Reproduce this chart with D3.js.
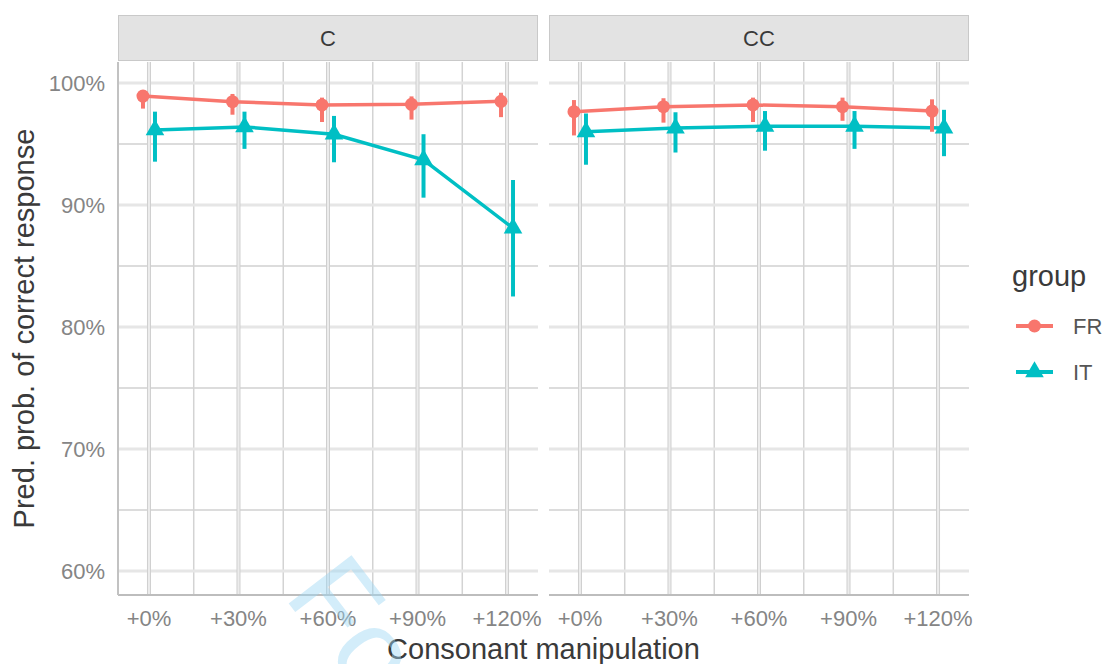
<!DOCTYPE html>
<html>
<head>
<meta charset="utf-8">
<script src="https://cdn.jsdelivr.net/npm/d3@7"></script>
<style>
  body { margin: 0; background: #fff; }
  svg { display: block; font-family: "Liberation Sans", Arial, sans-serif; }
</style>
</head>
<body>
<div id="chart"><svg></svg></div>
<script>
// Data (predicted probabilities, %)
const manipulations = ["+0%", "+30%", "+60%", "+90%", "+120%"];
const panels = ["C", "CC"];
const groups = ["FR", "IT"];
const yTicks = [60, 70, 80, 90, 100];
const yMinorTicks = [65, 75, 85, 95];

// panel C
const frC = [98.93, 98.47, 98.2, 98.25, 98.5];
const frCLow = [97.9, 97.4, 96.8, 97.0, 97.2];
const frCHigh = [99.3, 99.1, 98.8, 98.9, 99.2];
const itC = [96.15, 96.4, 95.8, 93.7, 88.1];
const itCLow = [93.55, 94.6, 93.5, 90.6, 82.5];
const itCHigh = [97.65, 97.65, 97.3, 95.8, 92.05];

// panel CC
const frCC = [97.65, 98.06, 98.2, 98.06, 97.7];
const frCCLow = [95.7, 96.75, 96.8, 96.9, 96.0];
const frCCHigh = [98.6, 98.75, 98.8, 98.8, 98.66];
const itCC = [96.0, 96.3, 96.45, 96.45, 96.3];
const itCCLow = [93.3, 94.3, 94.45, 94.6, 94.0];
const itCCHigh = [97.5, 97.6, 97.7, 97.7, 97.8];

(function () {
    const width = 1105;
    const height = 664;

    const colors = { FR: "#F8766D", IT: "#00BFC4" };
    const panelLeft = [118, 549];
    const panelWidth = 420;
    const panelTop = 62;
    const panelBottom = 595;
    const dodge = 6;

    const svg = d3.select("#chart svg")
        .attr("width", width)
        .attr("height", height);

    // series table built from the arrays above
    const series = {
        C: {
            FR: { est: frC, low: frCLow, high: frCHigh },
            IT: { est: itC, low: itCLow, high: itCHigh }
        },
        CC: {
            FR: { est: frCC, low: frCCLow, high: frCCHigh },
            IT: { est: itCC, low: itCCLow, high: itCCHigh }
        }
    };

    const x = d3.scalePoint()
        .domain(manipulations)
        .range([0, panelWidth])
        .padding(0.346);

    const y = d3.scaleLinear()
        .domain([58.03, 101.72])
        .range([panelBottom, panelTop]);

    const triangle = d3.symbol().type(d3.symbolTriangle).size(150);

    panels.forEach((panel, pi) => {
        const g = svg.append("g")
            .attr("transform", `translate(${panelLeft[pi]}, 0)`);

        // Strip
        g.append("rect")
            .attr("x", 0.5)
            .attr("y", 15.5)
            .attr("width", panelWidth - 1)
            .attr("height", 45)
            .attr("fill", "#e3e3e3")
            .attr("stroke", "#c9c9c9")
            .attr("stroke-width", 1);

        g.append("text")
            .attr("x", panelWidth / 2)
            .attr("y", 38)
            .attr("dy", "0.35em")
            .attr("text-anchor", "middle")
            .attr("font-size", "22px")
            .attr("fill", "#3a3a3a")
            .text(panel);

        // Minor gridlines
        yMinorTicks.forEach(t => {
            g.append("line")
                .attr("x1", 0).attr("x2", panelWidth)
                .attr("y1", y(t)).attr("y2", y(t))
                .attr("stroke", "#dcdcdc")
                .attr("stroke-width", 2);
        });
        const xs = manipulations.map(m => x(m));
        for (let i = 0; i < xs.length - 1; i++) {
            const mx = (xs[i] + xs[i + 1]) / 2;
            g.append("line")
                .attr("x1", mx).attr("x2", mx)
                .attr("y1", panelTop).attr("y2", panelBottom)
                .attr("stroke", "#d3d3d3")
                .attr("stroke-width", 1.5);
        }

        // Major gridlines
        yTicks.forEach(t => {
            g.append("line")
                .attr("x1", 0).attr("x2", panelWidth)
                .attr("y1", y(t)).attr("y2", y(t))
                .attr("stroke", "#e6e6e6")
                .attr("stroke-width", 3);
        });
        manipulations.forEach(m => {
            g.append("line")
                .attr("x1", x(m)).attr("x2", x(m))
                .attr("y1", panelTop).attr("y2", panelBottom)
                .attr("stroke", "#cfcfcf")
                .attr("stroke-width", 4);
            g.append("line")
                .attr("x1", x(m)).attr("x2", x(m))
                .attr("y1", panelTop).attr("y2", panelBottom)
                .attr("stroke", "#ececec")
                .attr("stroke-width", 2);
        });

        // Axis lines
        g.append("line")
            .attr("x1", 0).attr("x2", panelWidth)
            .attr("y1", panelBottom).attr("y2", panelBottom)
            .attr("stroke", "#bdbdbd")
            .attr("stroke-width", 2);
        if (pi === 0) {
            g.append("line")
                .attr("x1", 0).attr("x2", 0)
                .attr("y1", panelTop).attr("y2", panelBottom)
                .attr("stroke", "#c2c2c2")
                .attr("stroke-width", 2);
        }

        // X tick labels
        manipulations.forEach(m => {
            g.append("text")
                .attr("x", x(m))
                .attr("y", 626)
                .attr("text-anchor", "middle")
                .attr("font-size", "22px")
                .attr("fill", "#858585")
                .text(m);
        });

        // Lines first, then pointranges on top
        groups.forEach(grp => {
            const s = series[panel][grp];
            const off = grp === "FR" ? -dodge : dodge;
            const line = d3.line()
                .x((d, i) => x(manipulations[i]) + off)
                .y(d => y(d));
            g.append("path")
                .datum(s.est)
                .attr("d", line)
                .attr("fill", "none")
                .attr("stroke", colors[grp])
                .attr("stroke-width", 3.5);
        });

        groups.forEach(grp => {
            const s = series[panel][grp];
            const off = grp === "FR" ? -dodge : dodge;
            s.est.forEach((v, i) => {
                const cx = x(manipulations[i]) + off;
                g.append("line")
                    .attr("x1", cx).attr("x2", cx)
                    .attr("y1", y(s.low[i])).attr("y2", y(s.high[i]))
                    .attr("stroke", colors[grp])
                    .attr("stroke-width", 4);
                if (grp === "FR") {
                    g.append("circle")
                        .attr("cx", cx)
                        .attr("cy", y(v))
                        .attr("r", 6.5)
                        .attr("fill", colors[grp]);
                } else {
                    g.append("path")
                        .attr("d", triangle)
                        .attr("transform", `translate(${cx}, ${y(v)})`)
                        .attr("fill", colors[grp]);
                }
            });
        });
    });

    // Y tick labels
    yTicks.forEach(t => {
        svg.append("text")
            .attr("x", 105)
            .attr("y", y(t))
            .attr("dy", "0.35em")
            .attr("text-anchor", "end")
            .attr("font-size", "22px")
            .attr("fill", "#858585")
            .text(`${t}%`);
    });

    // Axis titles
    svg.append("text")
        .attr("x", 543.5)
        .attr("y", 659)
        .attr("text-anchor", "middle")
        .attr("font-size", "29px")
        .attr("fill", "#3a3a3a")
        .text("Consonant manipulation");

    svg.append("text")
        .attr("transform", `translate(34, ${(panelTop + panelBottom) / 2}) rotate(-90)`)
        .attr("text-anchor", "middle")
        .attr("font-size", "29px")
        .attr("fill", "#3a3a3a")
        .text("Pred. prob. of correct response");

    // Legend
    svg.append("text")
        .attr("x", 1012)
        .attr("y", 286)
        .attr("font-size", "29px")
        .attr("fill", "#3a3a3a")
        .text("group");

    const legendY = { FR: 326, IT: 372 };
    groups.forEach(grp => {
        const ly = legendY[grp];
        svg.append("line")
            .attr("x1", 1016).attr("x2", 1053)
            .attr("y1", ly).attr("y2", ly)
            .attr("stroke", colors[grp])
            .attr("stroke-width", 4);
        if (grp === "FR") {
            svg.append("circle")
                .attr("cx", 1034.5)
                .attr("cy", ly)
                .attr("r", 6.5)
                .attr("fill", colors[grp]);
        } else {
            svg.append("path")
                .attr("d", triangle)
                .attr("transform", `translate(1034.5, ${ly})`)
                .attr("fill", colors[grp]);
        }
        svg.append("text")
            .attr("x", 1073)
            .attr("y", ly)
            .attr("dy", "0.35em")
            .attr("font-size", "22px")
            .attr("fill", "#555")
            .text(grp);
    });

    // Review watermark, mostly cut off by the bottom edge (as in the reference)
    svg.append("text")
        .attr("transform", "translate(283, 596) rotate(52.5)")
        .attr("font-size", "115px")
        .attr("fill", "#9ed8f5")
        .attr("opacity", 0.45)
        .text("For Peer Review");
})();
</script>
</body>
</html>
